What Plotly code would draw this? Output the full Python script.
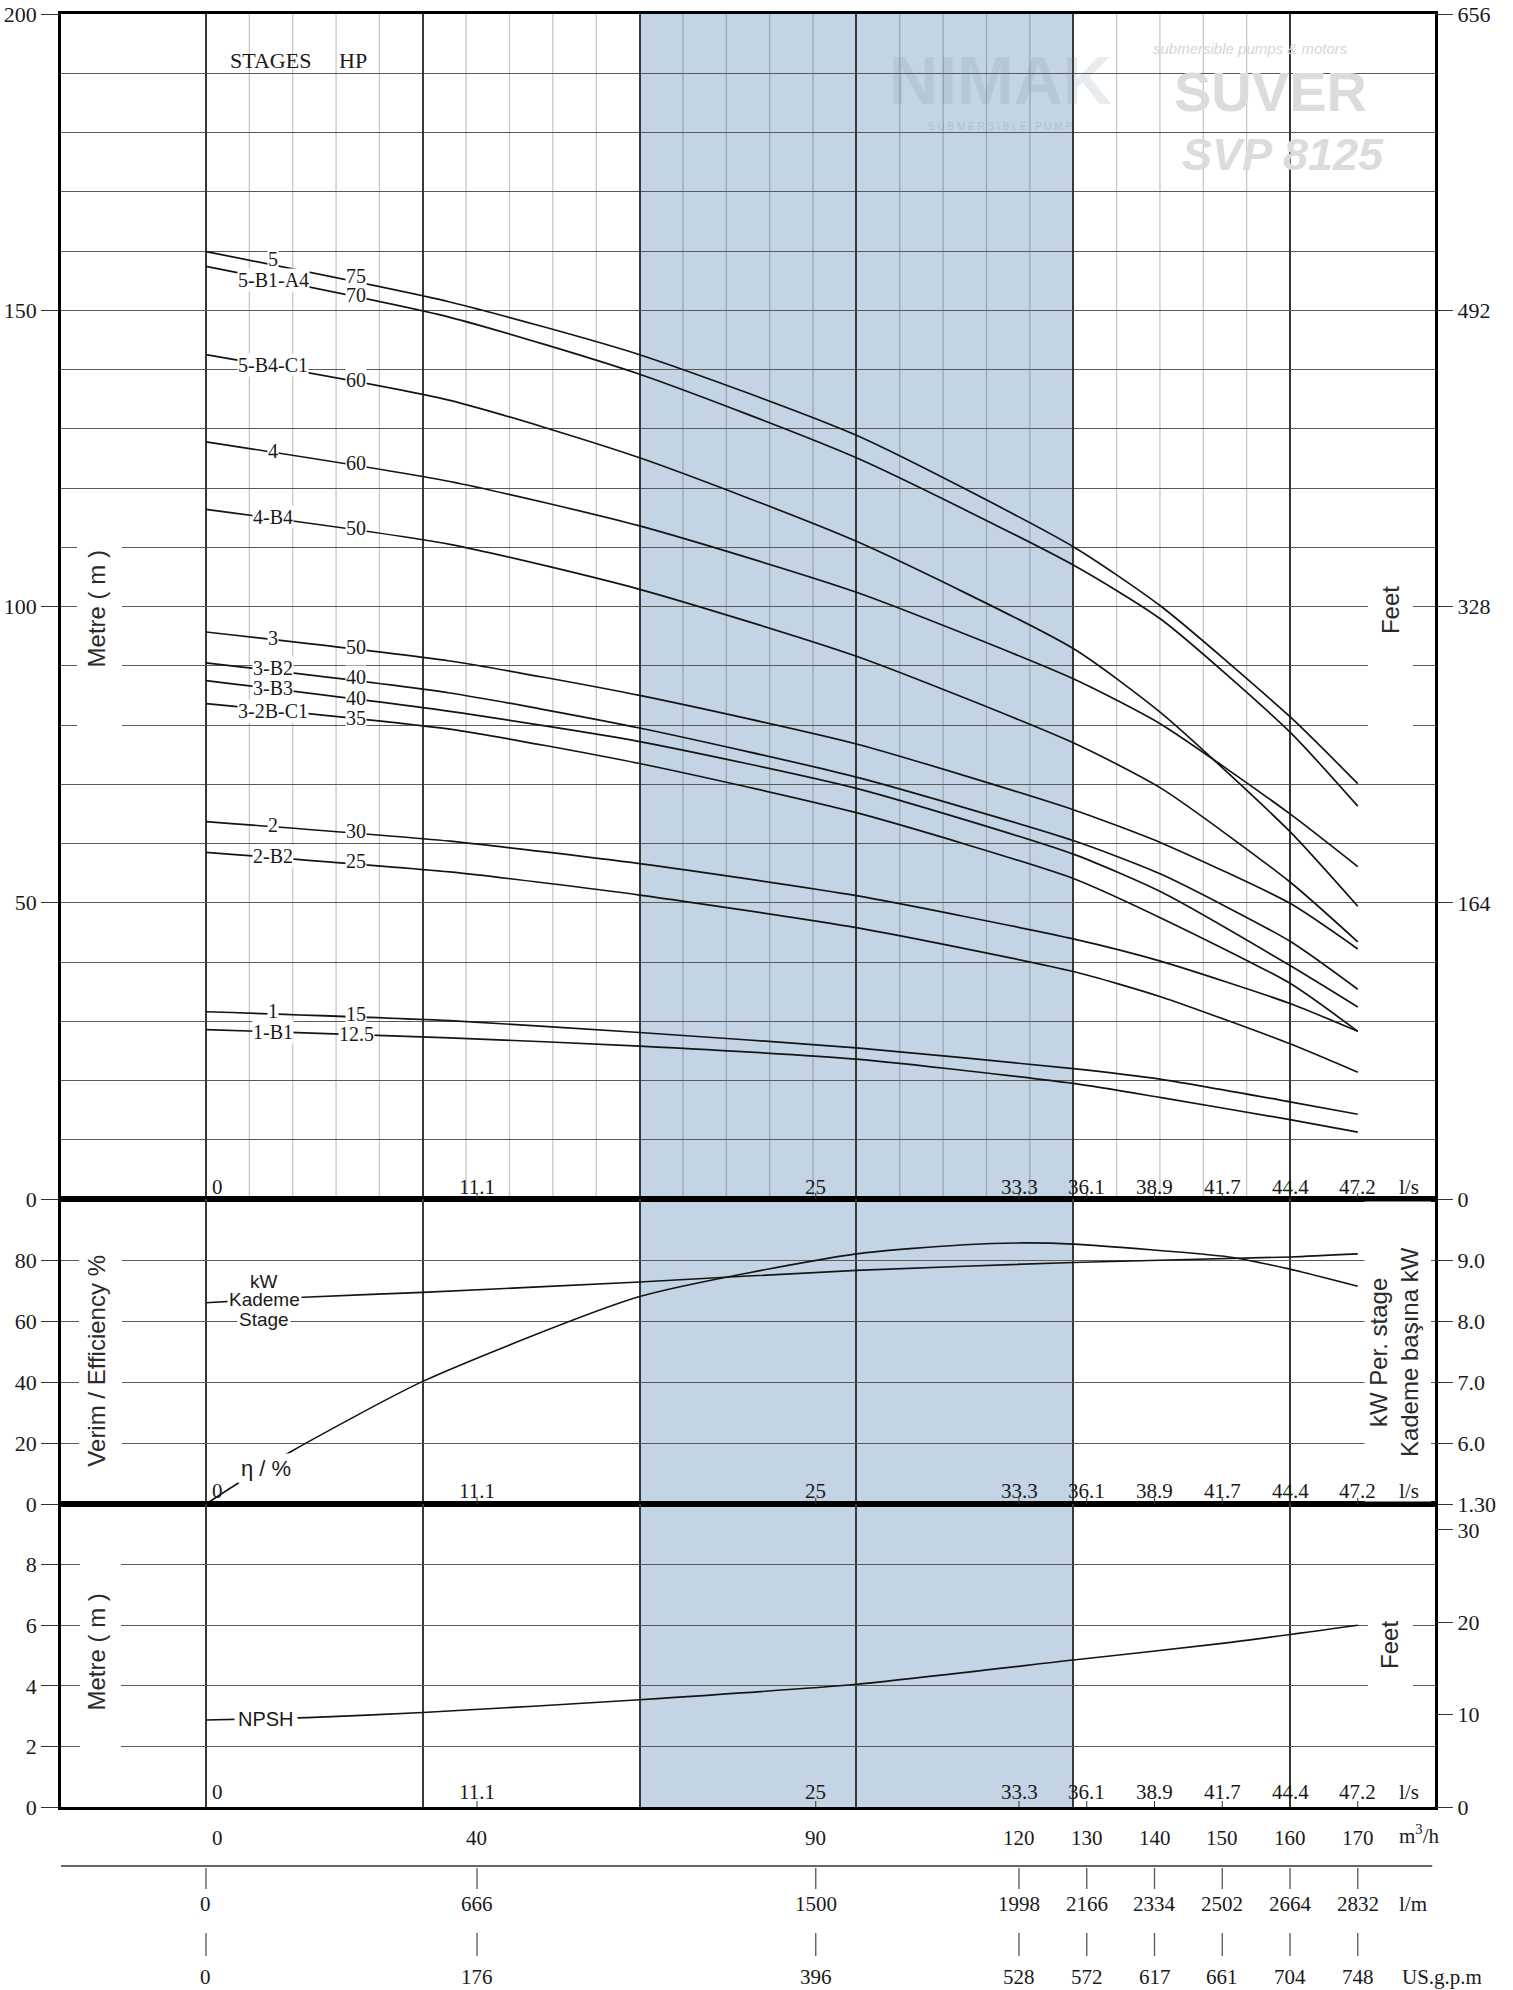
import numpy as np
import plotly.graph_objects as go

# ---------------- data (flow in m3/h) ----------------
Q_HEAD = [0, 36, 64, 96, 128, 141, 160, 170]
H_5       = [159.9, 151.4, 142.5, 128.9, 110.1, 100.0, 81.4, 70.1]
H_5_B1_A4 = [157.4, 148.8, 139.2, 125.1, 107.0, 97.8, 78.8, 66.3]
H_5_B4_C1 = [142.5, 134.8, 125.1, 111.0, 92.9, 82.0, 62.0, 49.4]
H_4       = [127.8, 121.1, 113.6, 102.4, 87.8, 80.1, 65.0, 56.1]
H_4_B4    = [116.4, 110.5, 102.9, 91.6, 77.0, 69.3, 53.5, 43.4]
H_3       = [95.7, 90.8, 85.0, 76.8, 65.7, 60.1, 49.9, 42.2]
H_3_B2    = [90.5, 85.4, 79.5, 71.2, 60.5, 54.8, 43.5, 35.4]
H_3_B3    = [87.5, 82.3, 77.2, 69.3, 58.2, 51.8, 39.4, 32.4]
H_3_2B_C1 = [83.6, 79.3, 73.5, 65.2, 54.1, 47.4, 36.4, 28.3]
H_2       = [63.7, 60.4, 56.6, 51.2, 43.9, 40.1, 33.0, 28.3]
H_2_B2    = [58.5, 55.2, 51.3, 45.8, 38.4, 34.1, 26.2, 21.4]
H_1       = [31.6, 30.1, 28.1, 25.5, 22.0, 20.2, 16.4, 14.3]
H_1_B1    = [28.6, 27.2, 25.8, 23.6, 19.5, 17.1, 13.4, 11.3]

HEADS = [H_5, H_5_B1_A4, H_5_B4_C1, H_4, H_4_B4, H_3, H_3_B2, H_3_B3,
         H_3_2B_C1, H_2, H_2_B2, H_1, H_1_B1]
STAGE_LABELS = ["5", "5-B1-A4", "5-B4-C1", "4", "4-B4", "3", "3-B2", "3-B3",
                "3-2B-C1", "2", "2-B2", "1", "1-B1"]
HP_LABELS = ["75", "70", "60", "60", "50", "50", "40", "40", "35", "30", "25", "15", "12.5"]
STAGE_SHIFT = [6, 0, 2, 2, 2, 2, 3, 1, 0, 2, 2, 3, 0]
HP_SHIFT = [7, 3, 3, 3, 3, 3, 4, 2, 1, 3, 3, 3, 1]

Q_EFF = [0, 3.8, 12.7, 32, 64, 96, 112, 121, 128, 151, 160, 170]
EFF   = [0, 5.5, 17.4, 40.2, 68.0, 82.0, 85.0, 85.6, 85.2, 81.0, 77.0, 71.4]

Q_KW = [0, 14.4, 32, 64, 96, 128, 160, 170]
KW   = [8.30, 8.39, 8.47, 8.64, 8.83, 8.96, 9.05, 9.10]

Q_NPSH = [0, 15, 32, 64, 96, 128, 150, 170]
NPSH   = [2.87, 2.95, 3.12, 3.54, 4.05, 4.85, 5.40, 6.00]

FLOW_M3H = [0, 40, 90, 120, 130, 140, 150, 160, 170]
FLOW_LS  = ["0", "11.1", "25", "33.3", "36.1", "38.9", "41.7", "44.4", "47.2"]
FLOW_LM  = ["0", "666", "1500", "1998", "2166", "2334", "2502", "2664", "2832"]
FLOW_GPM = ["0", "176", "396", "528", "572", "617", "661", "704", "748"]

HEAD_TICKS_M = [0, 50, 100, 150, 200]
HEAD_TICKS_FT = [0, 164, 328, 492, 656]
EFF_TICKS = [0, 20, 40, 60, 80]
KW_TICKS = [5, 6, 7, 8, 9]
KW_TICKTEXT = ["1.30", "6.0", "7.0", "8.0", "9.0"]
NPSH_TICKS_M = [0, 2, 4, 6, 8]
NPSH_TICKS_FT = [0, 10, 20, 30]
BAND = [64, 128]
M_TO_FT = 3.28084

# ---------------- geometry ----------------
W, Hh = 1513, 1990
ML, MR, MT, MB = 61, 78, 14, 183
PH = Hh - MT - MB
XR = [-21.4, 181.4]
PXU = (W - ML - MR) / (XR[1] - XR[0])


def qx(px):
    return XR[0] + (px - ML) / PXU


def pyp(py):
    return (Hh - MB - py) / PH


D_TOP = [pyp(1199), 1.0]
D_MID = [pyp(1504), pyp(1199)]
D_BOT = [0.0, pyp(1504)]

SERIF = "Liberation Serif, Times New Roman, serif"
SANS = "Liberation Sans, Arial, sans-serif"
INK = "#1a1a1a"

fig = go.Figure()

line_style = dict(color="#141414", width=1.7, shape="spline", smoothing=0.6)
for h in HEADS:
    fig.add_trace(go.Scatter(x=Q_HEAD, y=h, mode="lines", line=line_style,
                             xaxis="x", yaxis="y", hoverinfo="skip"))
fig.add_trace(go.Scatter(x=Q_EFF, y=EFF, mode="lines",
                         line=dict(color="#141414", width=1.6, shape="spline", smoothing=0.6),
                         xaxis="x2", yaxis="y2", hoverinfo="skip"))
fig.add_trace(go.Scatter(x=Q_KW, y=KW, mode="lines",
                         line=dict(color="#141414", width=1.6, shape="spline", smoothing=0.6),
                         xaxis="x2", yaxis="y5", hoverinfo="skip"))
fig.add_trace(go.Scatter(x=Q_NPSH, y=NPSH, mode="lines",
                         line=dict(color="#141414", width=1.6, shape="spline", smoothing=0.6),
                         xaxis="x3", yaxis="y3", hoverinfo="skip"))
# empty traces so that the right-hand axes are registered
fig.add_trace(go.Scatter(x=[], y=[], xaxis="x", yaxis="y4", hoverinfo="skip"))
fig.add_trace(go.Scatter(x=[], y=[], xaxis="x3", yaxis="y6", hoverinfo="skip"))

xcommon = dict(range=XR, showgrid=True, tickmode="linear", tick0=0, dtick=32,
               gridcolor="#383838", gridwidth=1.5, showticklabels=False, ticks="",
               showline=True, linecolor="#000", linewidth=2.6, mirror=True,
               zeroline=False, fixedrange=True)
ytick = dict(ticks="outside", ticklen=17, tickwidth=1.3, tickcolor="#333",
             tickfont=dict(family=SERIF, size=22, color=INK), zeroline=False,
             fixedrange=True)

fig.update_layout(
    width=W, height=Hh,
    margin=dict(l=ML, r=MR, t=MT, b=MB, autoexpand=False),
    paper_bgcolor="white", plot_bgcolor="white",
    showlegend=False, hovermode=False,
    xaxis=dict(anchor="y", **xcommon),
    xaxis2=dict(anchor="y2", matches="x", **xcommon),
    xaxis3=dict(anchor="y3", matches="x", **xcommon),
    yaxis=dict(domain=D_TOP, range=[0, 200], tickmode="array", tickvals=HEAD_TICKS_M,
               showgrid=True, gridcolor="#5a5a5a", gridwidth=1,
               minor=dict(tickvals=list(range(10, 200, 10)), showgrid=True,
                          gridcolor="#5a5a5a", gridwidth=1, ticks=""),
               showline=True, linecolor="#000", linewidth=2.6, mirror=True, **ytick),
    yaxis2=dict(domain=D_MID, range=[0, 100], tickmode="array", tickvals=EFF_TICKS,
                showgrid=True, gridcolor="#5a5a5a", gridwidth=1,
                showline=True, linecolor="#000", linewidth=2.6, mirror=True, **ytick),
    yaxis3=dict(domain=D_BOT, range=[0, 10], tickmode="array", tickvals=NPSH_TICKS_M,
                showgrid=True, gridcolor="#5a5a5a", gridwidth=1,
                showline=True, linecolor="#000", linewidth=2.6, mirror=True, **ytick),
    yaxis4=dict(overlaying="y", side="right", anchor="x", range=[0, 200 * M_TO_FT],
                tickmode="array", tickvals=HEAD_TICKS_FT, showgrid=False, showline=False, **ytick),
    yaxis5=dict(overlaying="y2", side="right", anchor="x2", range=[5, 10],
                tickmode="array", tickvals=KW_TICKS, ticktext=KW_TICKTEXT,
                showgrid=False, showline=False, **ytick),
    yaxis6=dict(overlaying="y3", side="right", anchor="x3", range=[0, 10 * M_TO_FT],
                tickmode="array", tickvals=NPSH_TICKS_FT, showgrid=False, showline=False, **ytick),
)

shapes = []
# operating band
for yr in ["y", "y2", "y3"]:
    shapes.append(dict(type="rect", xref="x", yref=yr + " domain", x0=BAND[0], x1=BAND[1],
                       y0=0, y1=1, fillcolor="#c3d5e4", line_width=0, layer="below"))
# light sub-grid in head panel
for k in range(1, 25):
    if k % 5 == 0:
        continue
    shapes.append(dict(type="line", xref="x", yref="y domain", x0=k * 6.4, x1=k * 6.4,
                       y0=0, y1=1, line=dict(color="rgba(0,0,0,0.22)", width=1.3), layer="below"))


def wrect(x0, x1, yr, y0, y1):
    shapes.append(dict(type="rect", xref="x", yref=yr, x0=x0, x1=x1, y0=y0, y1=y1,
                       fillcolor="white", line_width=0, layer="above"))


# white gaps behind axis titles
wrect(qx(77), qx(122), "y", 77, 113)
wrect(qx(79), qx(122), "y2", 5, 95)
wrect(qx(80), qx(121), "y3", 1.2, 8.8)
wrect(qx(1368), qx(1413), "y", 77, 103)
wrect(171, qx(1431), "y2", 0.8, 99.2)
wrect(qx(1368), qx(1413), "y3", 3.3, 6.7)

# small flow ticks at the bottom of each panel
for yr, ph in [("y", 1185), ("y2", 303), ("y3", 303)]:
    for q in FLOW_M3H[1:]:
        shapes.append(dict(type="line", xref="x", yref=yr + " domain", x0=q, x1=q,
                           y0=0, y1=6 / ph, line=dict(color="#333", width=1)))
# lower scale: separator and ticks
shapes.append(dict(type="line", xref="paper", yref="paper", x0=0, x1=0.998,
                   y0=pyp(1866), y1=pyp(1866), line=dict(color="#333", width=1.5)))
for q in FLOW_M3H:
    shapes.append(dict(type="line", xref="x", yref="paper", x0=q, x1=q,
                       y0=pyp(1868), y1=pyp(1889), line=dict(color="#555", width=1.3)))
    shapes.append(dict(type="line", xref="x", yref="paper", x0=q, x1=q,
                       y0=pyp(1933), y1=pyp(1956), line=dict(color="#555", width=1.3)))
fig.update_layout(shapes=shapes)

ann = []


def A(**kw):
    d = dict(showarrow=False, xanchor="center", yanchor="middle")
    d.update(kw)
    ann.append(d)


# header
A(x=qx(270), y=192.2, xref="x", yref="y", text="STAGES", font=dict(family=SERIF, size=22, color=INK))
A(x=qx(353), y=192.2, xref="x", yref="y", text="HP", font=dict(family=SERIF, size=22, color=INK))

Q_STAGE_LBL = qx(273)
Q_HP_LBL = qx(356)
for h, s, hp, ss, hs in zip(HEADS, STAGE_LABELS, HP_LABELS, STAGE_SHIFT, HP_SHIFT):
    A(x=Q_STAGE_LBL, y=float(np.interp(Q_STAGE_LBL, Q_HEAD, h)), xref="x", yref="y", text=s,
      bgcolor="white", borderpad=0, yshift=ss, font=dict(family=SERIF, size=20, color=INK))
    A(x=Q_HP_LBL, y=float(np.interp(Q_HP_LBL, Q_HEAD, h)), xref="x", yref="y", text=hp,
      bgcolor="white", borderpad=0, yshift=hs, font=dict(family=SERIF, size=20, color=INK))

# efficiency / kW / NPSH labels
q_eta = qx(266)
A(x=q_eta, y=float(np.interp(q_eta, Q_EFF, EFF)) - 0.5, xref="x2", yref="y2", text="η / %",
  bgcolor="white", borderpad=2, font=dict(family=SANS, size=22, color=INK))
q_kw = qx(264)
kw_y = float(np.interp(q_kw, Q_KW, KW))
A(x=q_kw, y=kw_y, xref="x2", yref="y5", text="Kademe", bgcolor="white", borderpad=1,
  font=dict(family=SANS, size=19, color=INK))
A(x=q_kw, y=kw_y, xref="x2", yref="y5", text="kW", yshift=18, bgcolor="white", borderpad=0,
  font=dict(family=SANS, size=19, color=INK))
A(x=q_kw, y=kw_y, xref="x2", yref="y5", text="Stage", yshift=-20, bgcolor="white", borderpad=1,
  font=dict(family=SANS, size=19, color=INK))
q_np = qx(266)
A(x=q_np, y=float(np.interp(q_np, Q_NPSH, NPSH)), xref="x3", yref="y3", text="NPSH",
  bgcolor="white", borderpad=3, font=dict(family=SANS, size=20, color=INK))

# axis titles
TF = dict(family=SANS, size=24, color="#2a2a2a")
A(x=qx(96), y=99.5, xref="x", yref="y", text="Metre ( m )", textangle=-90, font=TF)
A(x=qx(97), y=47, xref="x", yref="y2", text="Verim / Efficiency %", textangle=-90, font=TF)
A(x=qx(96), y=5.1, xref="x", yref="y3", text="Metre ( m )", textangle=-90, font=TF)
A(x=qx(1390), y=99.4, xref="x", yref="y", text="Feet", textangle=-90, font=TF)
A(x=qx(1394), y=49.8, xref="x", yref="y2", text="kW Per. stage<br>Kademe başına kW",
  textangle=-90, font=TF)
A(x=qx(1390), y=5.35, xref="x", yref="y3", text="Feet", textangle=-90, font=TF)

# flow rows inside panels
NF = dict(family=SERIF, size=21, color=INK)
for row_py in [1187, 1491, 1792]:
    for q, t in zip(FLOW_M3H, FLOW_LS):
        A(x=q, y=pyp(row_py), xref="x", yref="paper", text=t, font=NF,
          xshift=12 if q == 0 else 0)
    A(x=qx(1397), y=pyp(row_py), xref="x", yref="paper", text="l/s", xanchor="left", font=NF)
# lower scales
for q in FLOW_M3H:
    A(x=q, y=pyp(1838), xref="x", yref="paper", text=str(q), font=NF, xshift=12 if q == 0 else 0)
for q, t in zip(FLOW_M3H, FLOW_LM):
    A(x=q, y=pyp(1904), xref="x", yref="paper", text=t, font=NF)
for q, t in zip(FLOW_M3H, FLOW_GPM):
    A(x=q, y=pyp(1977), xref="x", yref="paper", text=t, font=NF)
A(x=qx(1397), y=pyp(1835), xref="x", yref="paper", text="m<sup>3</sup>/h", xanchor="left", font=NF)
A(x=qx(1397), y=pyp(1904), xref="x", yref="paper", text="l/m", xanchor="left", font=NF)
A(x=qx(1400), y=pyp(1977), xref="x", yref="paper", text="US.g.p.m", xanchor="left", font=NF)

# watermark logos
A(x=qx(1000), y=pyp(80), xref="x", yref="paper", text="<b>NIMAK</b>",
  font=dict(family=SANS, size=68, color="rgba(110,125,140,0.15)"))
A(x=qx(1000), y=pyp(127), xref="x", yref="paper", text="S U B M E R S I B L E   P U M P",
  font=dict(family=SANS, size=10, color="rgba(110,125,140,0.25)"))
A(x=qx(1250), y=pyp(48), xref="x", yref="paper", text="<i>submersible pumps &amp; motors</i>",
  font=dict(family=SANS, size=15, color="#d6d6d6"))
A(x=qx(1270), y=pyp(92), xref="x", yref="paper", text="<b>SUVER</b>",
  font=dict(family=SANS, size=56, color="#dcdcdc"))
A(x=qx(1283), y=pyp(155), xref="x", yref="paper", text="<b><i>SVP 8125</i></b>",
  font=dict(family=SANS, size=45, color="#dcdcdc"))

fig.update_layout(annotations=ann)

fig.write_html("out.html", config={"displayModeBar": False},
               post_script="document.body.style.margin='0';document.body.style.overflow='hidden';")
